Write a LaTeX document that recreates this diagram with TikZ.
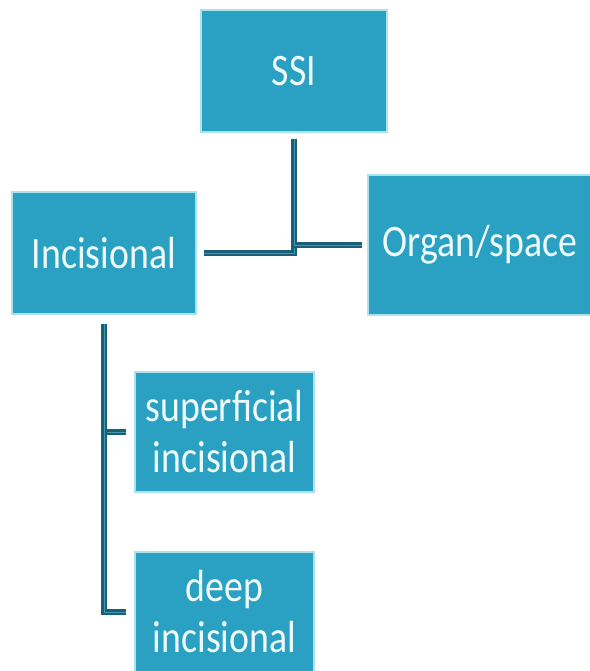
\documentclass[tikz,border=0pt]{standalone}
\usepackage{fontspec}
\setmainfont[FakeStretch=0.84]{Carlito}
\definecolor{boxfill}{RGB}{42,160,194}
\definecolor{boxedge}{RGB}{172,226,238}
\definecolor{linkdark}{RGB}{24,96,120}
\definecolor{linklight}{RGB}{70,150,175}
\definecolor{boxtext}{RGB}{238,250,252}

\begin{document}
\begin{tikzpicture}[x=1pt,y=1pt]
\tikzstyle{box}=[draw=boxedge, line width=1.5pt, fill=boxfill, text=boxtext, inner sep=0pt, align=center, font=\fontsize{45}{51}\selectfont]
\tikzstyle{link}=[draw=linkdark, line width=2.2pt, double=linklight, double distance=1pt]
\useasboundingbox (0,0) rectangle (589,-671);
\node [box, minimum width=186pt, minimum height=122pt] (ssi) at (294,-71) {SSI};
\node [box, minimum width=184pt, minimum height=122pt] (inc) at (104,-253) {Incisional};
\node [box, minimum width=224pt, minimum height=140pt] (org) at (480,-245) {Organ/space};
\node [box, minimum width=179pt, minimum height=120pt] (sup) at (224.5,-432) {superficial\\incisional};
\node [box, minimum width=179pt, minimum height=120pt] (deep) at (224.5,-612) {deep\\incisional};
\draw [link] ([yshift=-6pt]ssi.south) |- ([xshift=7pt]inc.east);
\draw [link] ([yshift=-6pt]ssi.south) |- ([xshift=-5pt]org.west);
\draw [link] ([yshift=-9pt]inc.south) |- ([xshift=-8pt]sup.west);
\draw [link] ([yshift=-9pt]inc.south) |- ([xshift=-8pt]deep.west);
\end{tikzpicture}
\end{document}
